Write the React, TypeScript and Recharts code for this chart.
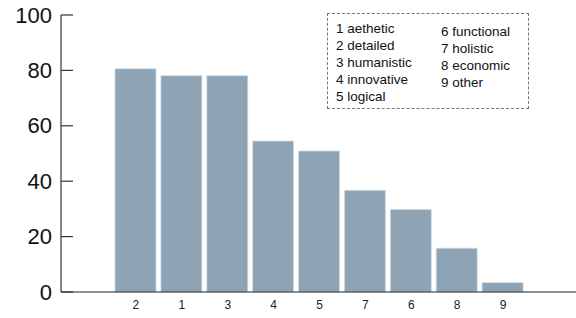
import { BarChart, Bar, XAxis, YAxis } from "recharts";

// bar order as drawn, left to right
const categories = ["2", "1", "3", "4", "5", "7", "6", "8", "9"];
const values = [80.6, 78.1, 78.1, 54.5, 50.9, 36.7, 29.8, 15.8, 3.4];
const yTicks = [0, 20, 40, 60, 80, 100];
const legendLeft = ["1 aethetic", "2 detailed", "3 humanistic", "4 innovative", "5 logical"];
const legendRight = ["6 functional", "7 holistic", "8 economic", "9 other"];

const data = categories.map((c, i) => ({ cat: c, value: values[i] }));

const FONT = "'Liberation Sans', Arial, sans-serif";

function YTick(props: any) {
  const { x, y, payload } = props;
  return (
    <g>
      <line x1={x + 9} x2={x + 21} y1={y} y2={y} stroke="#333" strokeWidth={1.2} />
      <text x={x} y={y} textAnchor="end" dominantBaseline="central" fontSize={22} fill="#111" fontFamily={FONT}>
        {payload.value}
      </text>
    </g>
  );
}

function LegendBox() {
  const col = (items: string[]) =>
    items.map((t) => (
      <div key={t} style={{ height: 17, lineHeight: "17px", whiteSpace: "nowrap" }}>{t}</div>
    ));
  return (
    <div
      style={{
        position: "absolute",
        left: 327,
        top: 13,
        width: 202,
        height: 96,
        border: "1px dashed #777",
        boxSizing: "border-box",
        fontFamily: FONT,
        fontSize: 13.5,
        color: "#111",
      }}
    >
      <div style={{ position: "absolute", left: 8, top: 6 }}>{col(legendLeft)}</div>
      <div style={{ position: "absolute", left: 113, top: 9 }}>{col(legendRight)}</div>
    </div>
  );
}

export default function App() {
  return (
    <div style={{ position: "absolute", left: 0, top: 0, width: 576, height: 318, background: "#fff" }}>
      <BarChart width={576} height={318} data={data} margin={{ top: 15, right: 0, bottom: 1, left: 0 }}>
        <XAxis
          dataKey="cat"
          height={25}
          padding={{ left: 52, right: 50 }}
          tickSize={0}
          tickMargin={8}
          axisLine={{ stroke: "#222", strokeWidth: 1.2 }}
          tick={{ fontSize: 12, fill: "#222", fontFamily: FONT }}
        />
        <YAxis
          width={61}
          domain={[0, 100]}
          ticks={yTicks}
          tickSize={0}
          tickMargin={9}
          axisLine={{ stroke: "#333", strokeWidth: 1.2 }}
          tick={<YTick />}
        />
        <Bar dataKey="value" fill="#8ea4b4" barSize={41} stroke="#d3dce2" strokeWidth={0.8} isAnimationActive={false} />
      </BarChart>
      <LegendBox />
    </div>
  );
}
